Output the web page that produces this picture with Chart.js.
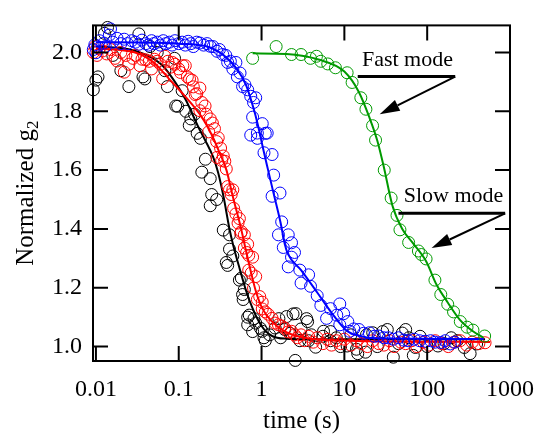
<!DOCTYPE html>
<html>
<head>
<meta charset="utf-8">
<script src="https://cdn.jsdelivr.net/npm/chart.js@4.4.1/dist/chart.umd.min.js"></script>
<style>
  html, body { margin: 0; padding: 0; background: #fff; }
</style>
</head>
<body>
<canvas id="g2Chart" width="548" height="434"></canvas>
<script>
// data: [time (s), normalized g2]
const blackPoints = [
  [0.0093,1.873],[0.0100,1.906],[0.0106,1.917],[0.0127,2.065],[0.0138,2.085],[0.016,1.99],[0.020,1.938],[0.025,1.884],
  [0.033,2.063],[0.037,1.917],[0.039,1.91],[0.045,2.02],[0.055,2.0],[0.068,1.938],[0.073,1.884],[0.089,1.98],[0.092,1.818],
  [0.097,1.817],[0.11,1.87],[0.122,1.80],[0.134,1.752],[0.14,1.774],[0.155,1.79],[0.167,1.725],[0.183,1.708],[0.19,1.593],
  [0.21,1.637],[0.24,1.571],[0.24,1.479],[0.25,1.517],[0.287,1.50],[0.345,1.396],[0.375,1.286],[0.39,1.276],[0.41,1.38],
  [0.41,1.331],[0.45,1.308],[0.54,1.226],[0.57,1.233],[0.59,1.177],[0.60,1.160],[0.62,1.194],[0.68,1.10],[0.68,1.074],
  [0.71,1.107],[0.78,1.051],[0.81,1.095],[0.85,1.08],[0.97,1.062],[1.02,1.052],[1.07,1.03],[1.11,1.02],[1.25,1.04],
  [1.46,1.063],[1.62,1.095],[1.7,1.03],[1.9,1.058],[2.0,1.102],[2.2,1.045],[2.4,1.111],[2.55,0.953],[2.6,1.112],[2.9,1.02],
  [3.0,1.06],[3.5,1.095],[3.6,1.085],[3.7,1.02],[4.0,1.04],[4.5,0.998],[5.5,1.035],[5.6,1.052],[6.8,1.051],[6.8,1.02],
  [8,1.03],[9,1.0],[10.8,1.002],[12,1.04],[14,0.991],[14.5,0.976],[18,0.981],[18.5,1.04],[22,1.047],[25,1.0],[29,1.051],
  [33,1.058],[39,0.964],[45,1.01],[50,1.046],[55,1.058],[60,1.03],[68,0.97],[72,0.997],[82,1.035],[100,1.0],[135,1.002],
  [160,1.01],[195,1.03],[230,1.02],[280,0.997],[330,0.976],[395,1.009]
];
const redPoints = [
  [0.0093,2.0],[0.0098,2.02],[0.0103,1.99],[0.011,2.014],[0.012,2.005],[0.0135,1.995],[0.015,2.01],[0.017,1.98],
  [0.018,1.971],[0.020,2.0],[0.022,1.933],[0.023,1.99],[0.025,1.96],[0.028,1.98],[0.030,1.99],[0.034,1.955],[0.036,1.977],
  [0.040,1.975],[0.044,1.97],[0.047,1.944],[0.051,1.977],[0.055,1.97],[0.060,1.96],[0.064,1.911],[0.068,1.987],[0.074,1.97],
  [0.080,1.95],[0.084,1.966],[0.090,1.96],[0.10,1.944],[0.105,1.932],[0.112,1.955],[0.12,1.955],[0.127,1.917],[0.135,1.91],
  [0.145,1.906],[0.15,1.883],[0.158,1.857],[0.165,1.86],[0.18,1.879],[0.18,1.802],[0.19,1.83],[0.208,1.818],[0.215,1.79],
  [0.23,1.73],[0.24,1.774],[0.255,1.76],[0.27,1.741],[0.287,1.697],[0.29,1.643],[0.30,1.71],[0.32,1.675],[0.33,1.633],
  [0.345,1.648],[0.36,1.63],[0.375,1.604],[0.39,1.544],[0.41,1.533],[0.43,1.517],[0.45,1.533],[0.46,1.47],[0.49,1.451],
  [0.52,1.42],[0.54,1.435],[0.56,1.385],[0.57,1.391],[0.62,1.38],[0.62,1.335],[0.66,1.32],[0.68,1.348],[0.70,1.31],
  [0.70,1.26],[0.75,1.25],[0.78,1.304],[0.80,1.199],[0.85,1.238],[0.89,1.16],[0.95,1.17],[1.02,1.128],[1.02,1.151],
  [1.11,1.118],[1.2,1.11],[1.34,1.096],[1.45,1.08],[1.6,1.074],[1.75,1.07],[1.9,1.063],[2.1,1.05],[2.3,1.052],[2.5,1.04],
  [2.7,1.03],[3.0,1.04],[3.3,1.02],[3.7,1.035],[4.2,1.015],[4.7,1.03],[5.5,1.01],[6.2,1.025],[7,1.005],[8,1.02],[9,1.01],
  [10,1.025],[12,1.005],[14,1.02],[16,1.01],[19,1.0],[22,1.02],[26,1.01],[30,1.005],[35,1.02],[40,1.0],[48,1.015],
  [55,1.01],[65,1.02],[75,1.0],[90,1.015],[105,1.005],[125,1.02],[150,1.01],[180,1.0],[210,1.015],[250,1.02],[300,1.005],
  [350,1.015],[420,1.01],[500,1.013]
];
const bluePoints = [
  [0.0093,2.01],[0.0097,2.026],[0.0100,1.999],[0.0105,2.02],[0.011,2.04],[0.0125,2.032],[0.013,2.02],[0.0145,2.059],
  [0.015,2.08],[0.016,2.035],[0.018,2.048],[0.020,2.03],[0.022,2.045],[0.024,2.03],[0.027,2.04],[0.030,2.035],[0.033,2.028],
  [0.036,2.042],[0.040,2.03],[0.043,2.025],[0.047,2.04],[0.050,2.03],[0.055,2.035],[0.060,2.025],[0.065,2.04],[0.070,2.03],
  [0.077,2.035],[0.083,2.025],[0.090,2.04],[0.10,2.03],[0.11,2.035],[0.12,2.025],[0.13,2.038],[0.14,2.03],[0.15,2.02],
  [0.165,2.035],[0.18,2.032],[0.20,2.025],[0.22,2.03],[0.24,2.021],[0.26,2.02],[0.29,2.004],[0.31,2.01],[0.34,1.993],
  [0.37,1.99],[0.39,1.966],[0.42,1.97],[0.45,1.944],[0.49,1.966],[0.51,1.917],[0.55,1.93],[0.59,1.884],[0.63,1.89],
  [0.68,1.873],[0.74,1.851],[0.74,1.719],[0.78,1.78],[0.80,1.83],[0.85,1.846],[0.89,1.726],[0.89,1.708],[1.02,1.758],
  [1.07,1.659],[1.11,1.725],[1.17,1.726],[1.34,1.653],[1.34,1.511],[1.4,1.583],[1.6,1.38],[1.67,1.522],[1.75,1.424],
  [1.83,1.337],[2.1,1.38],[2.1,1.271],[2.3,1.353],[2.3,1.304],[2.5,1.32],[2.9,1.26],[3.0,1.216],[3.7,1.244],[3.9,1.205],
  [4.7,1.173],[5.2,1.14],[6.1,1.096],[6.8,1.129],[8.1,1.107],[8.8,1.074],[8.8,1.145],[9.8,1.112],[11,1.085],[11.6,1.052],
  [13,1.06],[15,1.058],[17,1.045],[20,1.047],[23,1.035],[26,1.036],[30,1.03],[34,1.03],[39,1.025],[45,1.03],[52,1.022],
  [59,1.02],[70,1.025],[81,1.02],[95,1.018],[110,1.02],[125,1.015],[146,1.014],[165,1.02],[190,1.009],[215,1.015]
];
const greenPoints = [
  [0.78,1.98],[1.5,2.02],[2.3,1.993],[3.0,1.993],[3.9,1.98],[4.6,1.987],[5.2,1.97],[6.3,1.961],[7.8,1.948],[10.8,1.931],
  [12.4,1.898],[15.8,1.846],[18.2,1.807],[21.9,1.751],[23.8,1.702],[30.3,1.6],[36.7,1.505],[43.2,1.446],[46.9,1.397],
  [59.7,1.354],[78.3,1.325],[85,1.313],[97,1.298],[124,1.226],[146,1.177],[177,1.144],[208,1.118],[251,1.085],[303,1.066],
  [357,1.056],[494,1.036]
];

// fitted curves
const blackFit = [
  [0.01,2.02],[0.02,2.015],[0.03,2.005],[0.045,1.985],[0.064,1.955],[0.09,1.9],[0.121,1.84],[0.17,1.75],[0.21,1.70],
  [0.26,1.645],[0.3,1.59],[0.35,1.505],[0.41,1.40],[0.45,1.35],[0.55,1.26],[0.65,1.19],[0.78,1.13],[1.0,1.07],
  [1.34,1.036],[2,1.027],[5,1.025],[500,1.025]
];
const redFit = [
  [0.01,2.013],[0.02,2.008],[0.03,2.0],[0.05,1.966],[0.076,1.911],[0.12,1.85],[0.19,1.78],[0.25,1.72],[0.3,1.67],
  [0.377,1.6],[0.45,1.51],[0.567,1.40],[0.65,1.325],[0.75,1.25],[0.85,1.19],[1.02,1.13],[1.34,1.085],[1.9,1.052],
  [3.3,1.03],[11,1.02],[575,1.016]
];
const blueFit = [
  [0.01,2.035],[0.05,2.033],[0.1,2.03],[0.22,2.02],[0.35,1.99],[0.5,1.945],[0.65,1.889],[0.8,1.81],[0.9,1.755],
  [1.05,1.67],[1.2,1.6],[1.4,1.52],[1.7,1.42],[1.91,1.348],[2.08,1.315],[3.0,1.26],[4.7,1.184],[7,1.115],[10.6,1.055],
  [15,1.037],[25,1.028],[480,1.026]
];
const greenFit = [
  [0.78,1.997],[2,1.995],[5,1.975],[10,1.935],[15,1.865],[20,1.78],[25,1.70],[30,1.61],[38,1.48],[50,1.40],[68,1.35],
  [97,1.29],[130,1.21],[177,1.15],[250,1.09],[357,1.052],[480,1.03]
];

const xTicks = [0.01, 0.1, 1, 10, 100, 1000];
const yTicks = [1.0, 1.2, 1.4, 1.6, 1.8, 2.0];

// annotation anchors in data units: label, bar from t1 to t2 at g, arrow tip
const fastNote = { text: 'Fast mode', label: [16.3, 1.954], bar: [14.5, 218, 1.918], tip: [26.7, 1.79] };
const slowNote = { text: 'Slow mode', label: [52, 1.492], bar: [45, 874, 1.453], tip: [113, 1.335] };

const toXY = pts => pts.map(([x, y]) => ({ x, y }));

function markers(pts, color, order) {
  return {
    data: toXY(pts), order,
    borderColor: color, backgroundColor: 'rgba(0,0,0,0)',
    pointRadius: 6, pointBorderWidth: 1, pointHoverRadius: 6,
    showLine: false, clip: false
  };
}
function fitLine(pts, color, order) {
  return {
    data: toXY(pts), order,
    borderColor: color, borderWidth: 2, pointRadius: 0,
    showLine: true, fill: false, cubicInterpolationMode: 'monotone'
  };
}

// box, inward ticks, y title with subscript and the two labelled arrows
const frameAndNotes = {
  id: 'frameAndNotes',
  afterDatasetsDraw(chart) {
    const { ctx, chartArea: a, scales: { x, y } } = chart;
    ctx.save();
    ctx.strokeStyle = '#000';
    ctx.lineWidth = 2;
    ctx.strokeRect(a.left, a.top, a.right - a.left, a.bottom - a.top);
    ctx.beginPath();
    xTicks.forEach(v => {
      const px = x.getPixelForValue(v);
      ctx.moveTo(px, a.bottom); ctx.lineTo(px, a.bottom - 15);
      ctx.moveTo(px, a.top); ctx.lineTo(px, a.top + 15);
    });
    yTicks.forEach(v => {
      const py = y.getPixelForValue(v);
      ctx.moveTo(a.left, py); ctx.lineTo(a.left + 15, py);
      ctx.moveTo(a.right, py); ctx.lineTo(a.right - 15, py);
    });
    ctx.stroke();

    // "Normalized g2" with a real subscript
    ctx.save();
    ctx.translate(33, (a.top + a.bottom) / 2);
    ctx.rotate(-Math.PI / 2);
    ctx.fillStyle = '#000';
    ctx.textBaseline = 'alphabetic';
    ctx.textAlign = 'left';
    const main = 'Normalized g', sub = '2';
    ctx.font = "25px 'Liberation Serif'";
    const w1 = ctx.measureText(main).width;
    ctx.font = "17px 'Liberation Serif'";
    const w2 = ctx.measureText(sub).width;
    const x0 = -(w1 + w2) / 2;
    ctx.font = "25px 'Liberation Serif'";
    ctx.fillText(main, x0, 0);
    ctx.font = "17px 'Liberation Serif'";
    ctx.fillText(sub, x0 + w1, 5);
    ctx.restore();

    [fastNote, slowNote].forEach(n => {
      const bx1 = x.getPixelForValue(n.bar[0]);
      const bx2 = x.getPixelForValue(n.bar[1]);
      const by = y.getPixelForValue(n.bar[2]);
      const tx = x.getPixelForValue(n.tip[0]);
      const ty = y.getPixelForValue(n.tip[1]);
      ctx.fillStyle = '#000';
      ctx.font = "22px 'Liberation Serif'";
      ctx.textAlign = 'left';
      ctx.textBaseline = 'alphabetic';
      ctx.fillText(n.text, x.getPixelForValue(n.label[0]), y.getPixelForValue(n.label[1]));
      ctx.lineWidth = 3;
      ctx.beginPath();
      ctx.moveTo(bx1, by); ctx.lineTo(bx2, by);
      ctx.stroke();
      // arrow shaft and head
      const ang = Math.atan2(ty - by, tx - bx2);
      const headLen = 20, headHalf = 6;
      const baseX = tx - headLen * Math.cos(ang), baseY = ty - headLen * Math.sin(ang);
      ctx.lineWidth = 2;
      ctx.beginPath();
      ctx.moveTo(bx2, by); ctx.lineTo(baseX, baseY);
      ctx.stroke();
      ctx.beginPath();
      ctx.moveTo(tx, ty);
      ctx.lineTo(baseX + headHalf * Math.sin(ang), baseY - headHalf * Math.cos(ang));
      ctx.lineTo(baseX - headHalf * Math.sin(ang), baseY + headHalf * Math.cos(ang));
      ctx.closePath();
      ctx.fill();
    });
    ctx.restore();
  }
};

Chart.defaults.font.family = "'Liberation Serif', 'Times New Roman', serif";
Chart.defaults.color = '#000';

const g2Chart = new Chart(document.getElementById('g2Chart'), {
  type: 'scatter',
  data: {
    datasets: [
      fitLine(greenFit, '#009a00', 1),
      markers(greenPoints, '#009a00', 2),
      fitLine(blueFit, '#0000ff', 3),
      markers(bluePoints, '#0000ff', 4),
      fitLine(redFit, '#ff0000', 5),
      markers(redPoints, '#ff0000', 6),
      fitLine(blackFit, '#000000', 7),
      markers(blackPoints, '#000000', 8)
    ]
  },
  options: {
    responsive: false,
    animation: false,
    layout: { padding: { top: 13, right: 27, left: 0, bottom: 0 } },
    plugins: { legend: { display: false }, tooltip: { enabled: false } },
    scales: {
      x: {
        type: 'logarithmic',
        min: 0.00922, max: 1000,
        afterBuildTicks: s => { s.ticks = xTicks.map(v => ({ value: v })); },
        afterFit: s => { s.height = 73; },
        grid: { display: false, drawTicks: false },
        border: { display: false },
        ticks: { callback: v => String(v), font: { size: 24 }, padding: 14, maxRotation: 0, autoSkip: false },
        title: { display: true, text: 'time (s)', font: { size: 25, lineHeight: 1 }, padding: { top: 0, bottom: 0 } }
      },
      y: {
        type: 'linear',
        min: 0.951, max: 2.092,
        afterBuildTicks: s => { s.ticks = yTicks.map(v => ({ value: v })); },
        afterFit: s => { s.width = 93; },
        grid: { display: false, drawTicks: false },
        border: { display: false },
        ticks: { callback: v => v.toFixed(1), font: { size: 24 }, padding: 11 }
      }
    }
  },
  plugins: [frameAndNotes]
});
</script>
</body>
</html>
